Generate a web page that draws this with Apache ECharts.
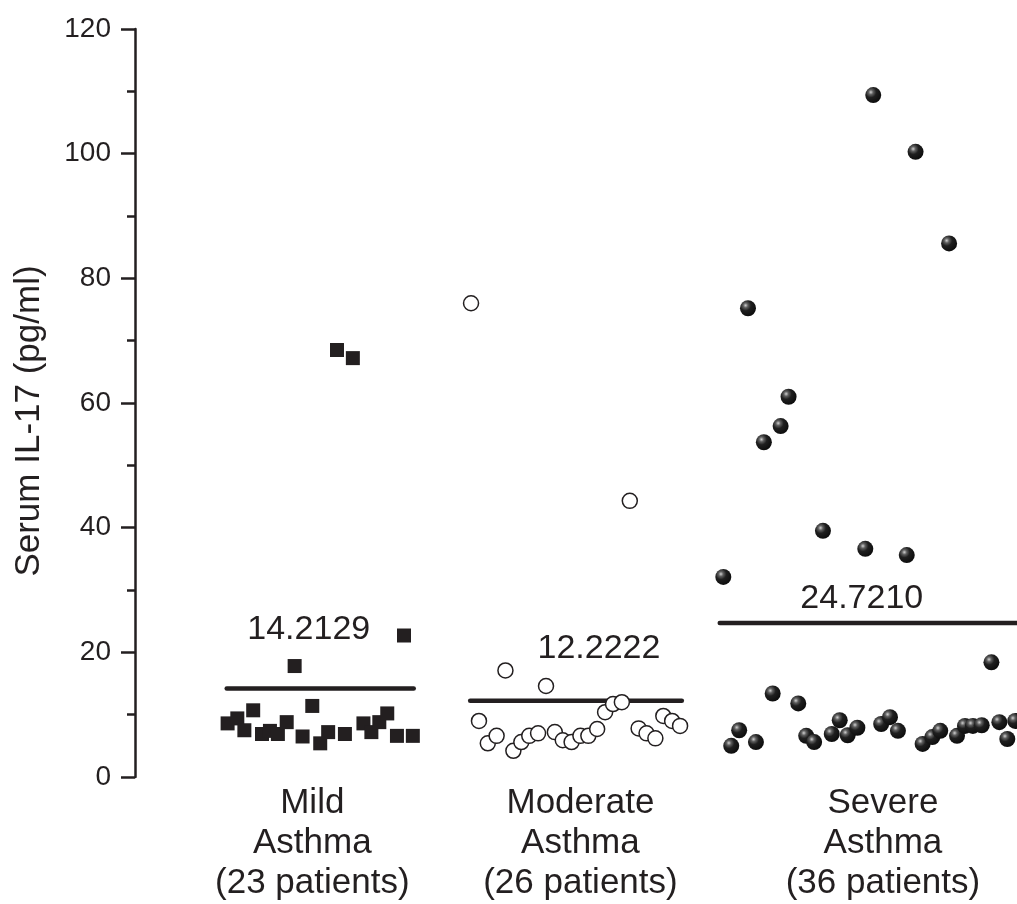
<!DOCTYPE html>
<html>
<head>
<meta charset="utf-8">
<script src="https://cdn.jsdelivr.net/npm/echarts@6/dist/echarts.min.js"></script>
<style>html,body{margin:0;padding:0;background:#fff}#c{width:1017px;height:904px}</style>
</head>
<body>
<div id="c"></div>
<script>
// ---- data (y = Serum IL-17 pg/ml, x = horizontal jitter position, 0..100 scale) ----
const categories = ['Mild\nAsthma\n(23 patients)', 'Moderate\nAsthma\n(26 patients)', 'Severe\nAsthma\n(36 patients)'];
const yTicks = [0, 20, 40, 60, 80, 100, 120];

const mildX = [30.5, 18.1, 13.4, 20.1, 10.5, 11.6, 12.4, 14.4, 15.3, 16.2, 17.2, 19.0, 21.0, 21.9, 23.8, 25.9, 26.8, 27.7, 28.6, 29.7, 31.5, 22.9, 24.7];
const mildY = [22.7, 17.8, 10.7, 11.4, 8.6, 9.4, 7.5, 6.9, 7.4, 6.9, 8.8, 6.5, 5.4, 7.2, 6.9, 8.6, 7.2, 8.8, 10.2, 6.6, 6.6, 68.5, 67.2];

const moderateX = [42.0, 46.6, 39.0, 40.0, 41.0, 42.9, 43.8, 44.7, 45.7, 47.6, 48.5, 49.5, 50.5, 51.4, 52.4, 53.3, 54.2, 55.2, 57.1, 58.0, 59.0, 59.9, 60.9, 61.8, 38.1, 56.1];
const moderateY = [17.1, 14.6, 9.0, 5.4, 6.6, 4.2, 5.6, 6.6, 7.0, 7.2, 5.9, 5.6, 6.6, 6.6, 7.7, 10.4, 11.7, 12.0, 7.8, 7.0, 6.2, 9.8, 9.0, 8.2, 76.0, 44.3];

const severeX = [97.1, 72.3, 75.2, 68.5, 67.6, 70.4, 76.1, 77.0, 79.0, 79.9, 80.8, 81.9, 84.6, 85.6, 86.5, 89.3, 90.4, 91.3, 93.2, 94.1, 95.0, 96.0, 98.0, 98.9, 99.8,
                 66.7, 69.5, 71.3, 73.2, 74.1, 78.0, 82.8, 87.5, 83.7, 88.5, 92.3];
const severeY = [18.4, 13.4, 11.8, 7.5, 5.0, 5.6, 6.6, 5.6, 6.9, 9.1, 6.7, 7.9, 8.5, 9.6, 7.4, 5.3, 6.4, 7.4, 6.6, 8.2, 8.2, 8.3, 8.8, 6.1, 9.0,
                 32.1, 75.2, 53.7, 56.3, 61.0, 39.5, 36.6, 35.6, 109.4, 100.3, 85.6];

const means = [14.2129, 12.2222, 24.7210];
const meanLineX = [[10.4, 31.6], [38.0, 62.0], [66.3, 100]];
const meanLabelX = [19.7, 52.6, 82.4];
const categoryX = [20.1, 50.5, 84.8];

// ---- styles / layout ----
const INK = '#231f20';
const FONT = 'Liberation Sans, Arial, Helvetica, sans-serif';
const meanLabelOffset = [59, 52, 24];

const zip = (xs, ys) => xs.map((x, i) => [x, ys[i]]);

const sphere = {
  type: 'radial', x: 0.35, y: 0.32, r: 0.75,
  colorStops: [
    { offset: 0, color: '#d0d0d0' },
    { offset: 0.2, color: '#5e5e5e' },
    { offset: 0.45, color: '#1f1f1f' },
    { offset: 1, color: '#0a0a0a' }
  ]
};

const series = [
  { type: 'scatter', name: 'Mild', data: zip(mildX, mildY), symbol: 'rect', symbolSize: 14,
    itemStyle: { color: INK, opacity: 1 }, z: 3 },
  { type: 'scatter', name: 'Moderate', data: zip(moderateX, moderateY), symbol: 'circle', symbolSize: 15,
    itemStyle: { color: '#fff', borderColor: INK, borderWidth: 1.5, opacity: 1 }, z: 3 },
  { type: 'scatter', name: 'Severe', data: zip(severeX, severeY), symbol: 'circle', symbolSize: 16,
    itemStyle: { color: sphere, opacity: 1 }, clip: false, z: 3 }
];

means.forEach((m, i) => {
  series.push({
    type: 'line', data: meanLineX[i].map(x => [x, m]), symbol: 'none', silent: true,
    lineStyle: { color: INK, width: 4.5, cap: 'round' }, z: 2, clip: false
  });
  series.push({
    type: 'scatter', data: [[meanLabelX[i], m]], symbolSize: 0, silent: true,
    itemStyle: { opacity: 1 },
    label: { show: true, position: 'inside', offset: [0, -meanLabelOffset[i]],
      formatter: () => m.toFixed(4), color: INK, fontSize: 34, fontFamily: FONT },
    z: 4
  });
});

const chart = echarts.init(document.getElementById('c'), null, { renderer: 'canvas' });
chart.setOption({
  backgroundColor: '#ffffff',
  animation: false,
  grid: { left: 135, right: 0, top: 29, bottom: 127, containLabel: false },
  xAxis: {
    type: 'value', min: 0, max: 100,
    axisLine: { show: false }, axisTick: { show: false }, splitLine: { show: false },
    axisLabel: {
      customValues: categoryX,
      formatter: (v) => {
        let best = 0;
        categoryX.forEach((c, i) => { if (Math.abs(c - v) < Math.abs(categoryX[best] - v)) best = i; });
        return categories[best];
      },
      color: INK, fontSize: 35, lineHeight: 40, fontFamily: FONT, margin: 6
    }
  },
  yAxis: {
    type: 'value', min: 0, max: 120, interval: 20,
    name: 'Serum IL-17 (pg/ml)', nameLocation: 'middle', nameGap: 88,
    nameTextStyle: { color: INK, fontSize: 35, fontFamily: FONT, padding: [0, 36, 0, 0] },
    axisLine: { show: true, lineStyle: { color: INK, width: 2.5 } },
    axisTick: { show: true, inside: false, length: 14, lineStyle: { color: INK, width: 2.5 } },
    minorTick: { show: true, splitNumber: 2, length: 8, lineStyle: { color: INK, width: 2.5 } },
    splitLine: { show: false },
    axisLabel: { color: INK, fontSize: 28, fontFamily: FONT, margin: 24,
      customValues: yTicks }
  },
  series
});
</script>
</body>
</html>
